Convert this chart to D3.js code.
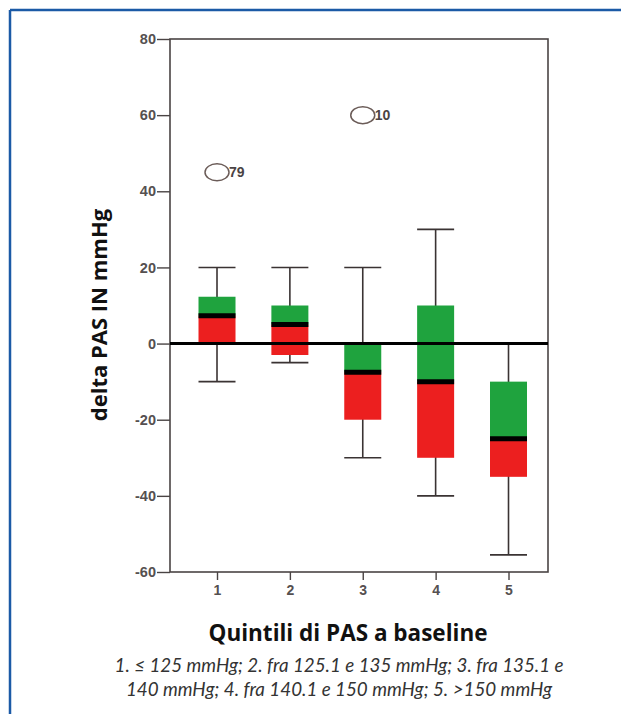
<!DOCTYPE html>
<html><head><meta charset="utf-8">
<script src="https://cdn.jsdelivr.net/npm/d3@7"></script>
<style>body{margin:0;background:#fff}svg{display:block}</style>
</head><body>
<script>
const categories = [1, 2, 3, 4, 5];
const whiskerLow  = [-10, -5, -30, -40, -55.5];
const q1          = [0, -3, -20, -30, -35];
const median      = [7.3, 5, -7.5, -10, -25];
const q3          = [12.3, 10, 0, 10, -10];
const whiskerHigh = [20, 20, 20, 30, 0];
const outlierCat   = [1, 3];
const outlierValue = [45, 60];
const outlierLabel = ["79", "10"];
const yTicks = [80, 60, 40, 20, 0, -20, -40, -60];
const yTitle = "delta PAS IN mmHg";
const xTitle = "Quintili di PAS a baseline";
const caption = ["1. \u2264 125 mmHg; 2. fra 125.1 e 135 mmHg; 3. fra 135.1 e",
                 "140 mmHg; 4. fra 140.1 e 150 mmHg; 5. >150 mmHg"];

const W = 621, H = 714;
const svg = d3.select("body").append("svg").attr("width", W).attr("height", H);

// blue frame
svg.append("line").attr("x1", 10).attr("x2", W).attr("y1", 10).attr("y2", 10)
  .attr("stroke", "#1b5aa6").attr("stroke-width", 2.5);
svg.append("line").attr("x1", 10).attr("x2", 10).attr("y1", 10).attr("y2", H)
  .attr("stroke", "#1b5aa6").attr("stroke-width", 2.5);

const plot = {l: 170, r: 548, t: 39, b: 572};
const y = d3.scaleLinear().domain([-60, 80]).range([plot.b, plot.t]);
const x = d3.scaleLinear().domain([0.355, 5.542]).range([plot.l, plot.r]);
const bw = 37;
const fmt = d => String(d);

// frame
svg.append("rect").attr("x", plot.l).attr("y", plot.t)
  .attr("width", plot.r - plot.l).attr("height", plot.b - plot.t)
  .attr("fill", "none").attr("stroke", "#4a4444").attr("stroke-width", 1.6);

// y axis
const yAxis = svg.append("g").attr("transform", `translate(${plot.l},0)`)
  .call(d3.axisLeft(y).tickValues(yTicks).tickSize(13).tickPadding(1).tickFormat(fmt));
yAxis.select(".domain").remove();
yAxis.selectAll("line").attr("stroke", "#4a4444").attr("stroke-width", 1.4);
yAxis.selectAll("text").attr("font-family", "Arial, 'Liberation Sans', sans-serif")
  .attr("font-size", 14.5).attr("font-weight", "bold").attr("fill", "#555050");

// x axis
const xAxis = svg.append("g").attr("transform", `translate(0,${plot.b})`)
  .call(d3.axisBottom(x).tickValues(categories).tickSize(8).tickPadding(5).tickFormat(fmt));
xAxis.select(".domain").remove();
xAxis.selectAll("line").attr("stroke", "#4a4444").attr("stroke-width", 1.4);
xAxis.selectAll("text").attr("font-family", "Arial, 'Liberation Sans', sans-serif")
  .attr("font-size", 14).attr("font-weight", "bold").attr("fill", "#555050");

// boxes
const data = categories.map((c, i) => ({c, lo: whiskerLow[i], q1: q1[i], med: median[i], q3: q3[i], hi: whiskerHigh[i]}));
const g = svg.append("g");
const bx = g.selectAll("g.box").data(data).join("g").attr("class", "box");
bx.append("line").attr("x1", d => x(d.c)).attr("x2", d => x(d.c))
  .attr("y1", d => y(d.hi)).attr("y2", d => y(d.lo)).attr("stroke", "#3a3333").attr("stroke-width", 1.6);
bx.append("line").attr("x1", d => x(d.c) - bw / 2).attr("x2", d => x(d.c) + bw / 2)
  .attr("y1", d => y(d.hi)).attr("y2", d => y(d.hi)).attr("stroke", "#3a3333").attr("stroke-width", 1.6);
bx.append("line").attr("x1", d => x(d.c) - bw / 2).attr("x2", d => x(d.c) + bw / 2)
  .attr("y1", d => y(d.lo)).attr("y2", d => y(d.lo)).attr("stroke", "#3a3333").attr("stroke-width", 1.6);
bx.append("rect").attr("x", d => x(d.c) - bw / 2).attr("width", bw)
  .attr("y", d => y(d.q3)).attr("height", d => y(d.med) - y(d.q3)).attr("fill", "#1fa33e");
bx.append("rect").attr("x", d => x(d.c) - bw / 2).attr("width", bw)
  .attr("y", d => y(d.med)).attr("height", d => y(d.q1) - y(d.med)).attr("fill", "#ec1f1f");
bx.append("line").attr("x1", d => x(d.c) - bw / 2).attr("x2", d => x(d.c) + bw / 2)
  .attr("y1", d => y(d.med)).attr("y2", d => y(d.med)).attr("stroke", "#000").attr("stroke-width", 5);

// zero line
svg.append("line").attr("x1", plot.l).attr("x2", plot.r).attr("y1", y(0)).attr("y2", y(0))
  .attr("stroke", "#000").attr("stroke-width", 3);

// outliers
outlierCat.forEach((c, i) => {
  svg.append("ellipse").attr("cx", x(c)).attr("cy", y(outlierValue[i])).attr("rx", 12).attr("ry", 8.5)
    .attr("fill", "none").attr("stroke", "#6b5c58").attr("stroke-width", 1.5);
  svg.append("text").attr("x", x(c) + 12).attr("y", y(outlierValue[i]) + 5)
    .attr("font-family", "Arial, 'Liberation Sans', sans-serif").attr("font-size", 14)
    .attr("font-weight", "bold").attr("fill", "#4a4444").text(outlierLabel[i]);
});

// titles
svg.append("text").attr("transform", `translate(107,${315}) rotate(-90)`)
  .attr("text-anchor", "middle").attr("font-family", "'Open Sans', sans-serif")
  .attr("font-size", 22).attr("font-weight", "bold").attr("fill", "#111").text(yTitle);
svg.append("text").attr("x", 348).attr("y", 641).attr("text-anchor", "middle")
  .attr("font-family", "'Open Sans', sans-serif").attr("font-size", 22.5)
  .attr("font-weight", "bold").attr("fill", "#111").text(xTitle);
caption.forEach((t, i) => {
  svg.append("text").attr("x", 339).attr("y", 672 + i * 24).attr("text-anchor", "middle")
    .attr("font-family", "Lato, sans-serif").attr("font-size", 18.8).attr("font-style", "italic")
    .attr("fill", "#333").text(t);
});
</script>
</body></html>
